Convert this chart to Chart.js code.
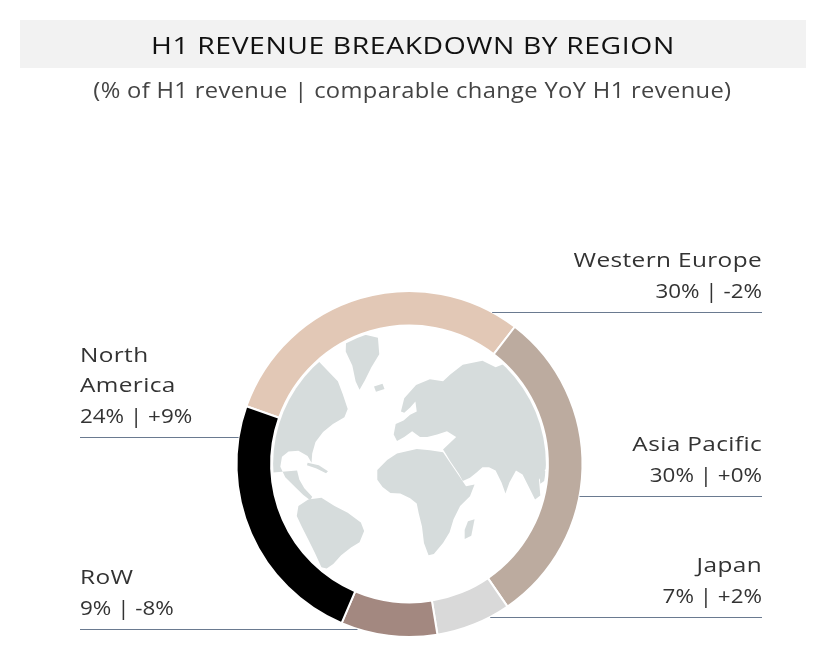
<!DOCTYPE html>
<html>
<head>
<meta charset="utf-8">
<script src="https://cdn.jsdelivr.net/npm/chart.js@4.4.1/dist/chart.umd.min.js"></script>
<style>
  body { margin: 0; background: #fff; }
  #wrap { position: relative; width: 836px; height: 668px; font-family: "Open Sans", sans-serif; }
  #title {
    position: absolute; left: 20px; top: 20px; width: 786px; height: 48px;
    background: #f2f2f2; color: #111; text-align: center;
    font-size: 24px; line-height: 50px; letter-spacing: 0.5px;
  }
  #sub {
    position: absolute; left: 0; top: 76px; width: 824px; text-align: center;
    color: #444; font-size: 21px; letter-spacing: 0.3px;
  }
  #title span, #sub span { display: inline-block; }
  #title span { transform: scaleX(1.18); }
  #sub span { transform: scaleX(1.13); }
  canvas { position: absolute; left: 0; top: 0; }
</style>
</head>
<body>
<div id="wrap">
  <canvas id="chart" width="836" height="668"></canvas>
  <div id="title"><span>H1 REVENUE BREAKDOWN BY REGION</span></div>
  <div id="sub"><span>(% of H1 revenue | comparable change YoY H1 revenue)</span></div>
</div>
<script>
const regions = ["Western Europe", "Asia Pacific", "Japan", "RoW", "North America"];
const shares = [30, 30, 7, 9, 24];
const changes = [-2, 0, 2, -8, 9];
const colors = ["#e2c8b6", "#bcab9f", "#d9d9d9", "#a38880", "#000000"];

// where each label sits (line height of the leader line, side, how the name wraps)
const labelSpots = [
  { side: "right", lineY: 312, name: ["Western Europe"] },
  { side: "right", lineY: 496, name: ["Asia Pacific"] },
  { side: "right", lineY: 617, name: ["Japan"] },
  { side: "left",  lineY: 629, name: ["RoW"] },
  { side: "left",  lineY: 437, name: ["North", "America"] }
];

// rough world map outlines, in a 0..1077 box around the globe centre (538, 552), radius 415
const landShapes = [
  // north america
  [100,300, 200,250, 260,238, 300,280, 320,300, 335,340, 350,385, 340,410, 305,430, 275,455, 252,485, 242,520, 240,548, 228,528, 200,512, 170,514, 150,530, 145,560, 160,592, 190,622, 215,646, 236,662, 242,652, 218,626, 203,600, 196,572, 100,580],
  // greenland
  [345,175, 400,158, 442,168, 446,218, 422,258, 402,298, 386,326, 374,300, 364,252, 344,210],
  // iceland
  [430,316, 456,308, 462,324, 436,332],
  // cuba
  [228,548, 262,556, 290,574, 284,580, 255,566, 226,556],
  // eurasia
  [512,392, 522,352, 558,312, 600,294, 640,300, 662,280, 700,250, 760,238, 800,258, 850,238, 900,248, 960,296, 1010,340, 1010,560, 952,568, 932,600, 936,648, 920,660, 900,620, 882,584, 862,572, 842,608, 830,642, 818,608, 800,572, 780,562, 760,562, 742,578, 722,594, 700,604, 688,582, 662,544, 648,520, 640,508, 680,470, 652,452, 622,462, 592,470, 570,470, 546,452, 522,470, 500,482, 490,462, 496,430, 520,420, 540,402, 560,392, 556,362, 540,380, 522,396],
  // africa
  [440,570, 470,540, 500,520, 560,506, 600,510, 640,516, 660,546, 690,590, 710,620, 736,614, 722,650, 692,680, 672,720, 660,760, 640,792, 612,826, 596,830, 582,792, 576,742, 566,702, 560,672, 540,656, 510,642, 480,640, 456,622, 440,600],
  // madagascar
  [716,726, 736,720, 726,770, 706,780, 706,752],
  // south america
  [200,680, 230,660, 270,655, 310,680, 350,700, 390,730, 400,756, 386,790, 360,806, 330,830, 306,856, 286,870, 270,866, 250,822, 230,782, 210,742, 195,710],
  // japan
  [940,568, 952,574, 948,604, 936,612, 934,590]
];

const globePlugin = {
  id: "globe",
  beforeDatasetsDraw(chart) {
    const arc = chart.getDatasetMeta(0).data[0];
    if (!arc) return;
    const { ctx } = chart;
    const cx = arc.x, cy = arc.y, r = arc.innerRadius - 2;
    ctx.save();
    ctx.beginPath();
    ctx.arc(cx, cy, r, 0, Math.PI * 2);
    ctx.clip();
    ctx.fillStyle = "#d6dcdc";
    landShapes.forEach(pts => {
      ctx.beginPath();
      for (let i = 0; i < pts.length; i += 2) {
        const x = cx + (pts[i] - 538) / 415 * r;
        const y = cy + (pts[i + 1] - 552) / 415 * r;
        if (i === 0) ctx.moveTo(x, y); else ctx.lineTo(x, y);
      }
      ctx.closePath();
      ctx.fill();
    });
    ctx.restore();
  }
};

const labelPlugin = {
  id: "regionLabels",
  afterDraw(chart) {
    const { ctx } = chart;
    const meta = chart.getDatasetMeta(0);
    meta.data.forEach((arc, i) => {
      const spot = labelSpots[i];
      const R = arc.outerRadius;
      const dy = spot.lineY - arc.y;
      const dx = Math.sqrt(Math.max(R * R - dy * dy, 0));
      const right = spot.side === "right";
      const x0 = right ? arc.x + dx : arc.x - dx;
      const edge = right ? 762 : 80;

      ctx.save();
      ctx.strokeStyle = "#6a7a90";
      ctx.lineWidth = 1;
      ctx.beginPath();
      ctx.moveTo(x0, spot.lineY + 0.5);
      ctx.lineTo(edge, spot.lineY + 0.5);
      ctx.stroke();

      const sign = changes[i] >= 0 ? "+" : "";
      const lines = spot.name.concat([shares[i] + "% | " + sign + changes[i] + "%"]);
      ctx.fillStyle = "#333";
      ctx.font = '20px "Open Sans", sans-serif';
      ctx.textAlign = right ? "right" : "left";
      ctx.textBaseline = "middle";
      lines.forEach((t, k) => {
        const last = k === lines.length - 1;
        const y = spot.lineY - 20 - (lines.length - 1 - k) * 30.5;
        ctx.save();
        ctx.letterSpacing = last ? "0px" : "0.3px";
        ctx.translate(edge, y);
        ctx.scale(last ? 1.12 : 1.22, 1);
        ctx.fillText(t, 0, 0);
        ctx.restore();
      });
      ctx.restore();
    });
  }
};

new Chart(document.getElementById("chart"), {
  type: "doughnut",
  data: {
    labels: regions,
    datasets: [{
      data: shares,
      backgroundColor: colors,
      borderColor: "#ffffff",
      borderWidth: 2
    }]
  },
  options: {
    responsive: false,
    animation: false,
    rotation: -70.5,
    radius: 173,
    cutout: "80%",
    layout: { padding: { top: 260, right: 17, left: 0, bottom: 0 } },
    plugins: {
      legend: { display: false },
      tooltip: { enabled: false }
    }
  },
  plugins: [globePlugin, labelPlugin]
});
</script>
</body>
</html>
